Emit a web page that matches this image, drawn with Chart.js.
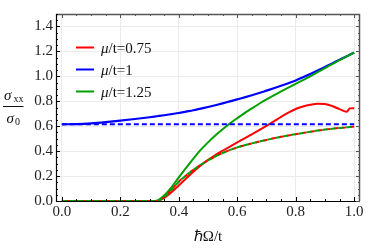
<!DOCTYPE html>
<html>
<head>
<meta charset="utf-8">
<script src="https://cdn.jsdelivr.net/npm/chart.js@4.4.0/dist/chart.umd.min.js"></script>
<style>
  html, body { margin: 0; padding: 0; background: #fff; }
  #wrap { width: 374px; height: 249px; }
</style>
</head>
<body>
<div id="wrap"><canvas id="c" width="374" height="249"></canvas></div>
<script>
// ---- data ----
const xs      = [0, 0.05, 0.1, 0.15, 0.2, 0.25, 0.3, 0.325, 0.35, 0.375, 0.4, 0.425, 0.45, 0.475, 0.5, 0.525, 0.55, 0.575, 0.6, 0.625, 0.65, 0.675, 0.7, 0.725, 0.75, 0.775, 0.8, 0.825, 0.85, 0.875, 0.9, 0.925, 0.95, 0.975, 0.985, 1.0];
const mu1     = [0.615, 0.617, 0.623, 0.633, 0.645, 0.658, 0.672, 0.68, 0.688, 0.697, 0.706, 0.717, 0.728, 0.741, 0.754, 0.768, 0.783, 0.799, 0.815, 0.831, 0.848, 0.866, 0.885, 0.904, 0.924, 0.945, 0.967, 0.992, 1.018, 1.046, 1.075, 1.104, 1.133, 1.162, 1.173, 1.19];
const mu125   = [0, 0, 0, 0, 0, 0, 0, 0.003, 0.045, 0.11, 0.19, 0.265, 0.34, 0.41, 0.47, 0.525, 0.575, 0.622, 0.664, 0.705, 0.743, 0.78, 0.815, 0.848, 0.88, 0.91, 0.94, 0.97, 1.0, 1.033, 1.066, 1.098, 1.13, 1.16, 1.172, 1.19];
const mu075   = [0, 0, 0, 0, 0, 0, 0, 0, 0.025, 0.07, 0.125, 0.18, 0.235, 0.285, 0.33, 0.368, 0.403, 0.437, 0.47, 0.502, 0.535, 0.568, 0.602, 0.638, 0.675, 0.708, 0.738, 0.758, 0.772, 0.781, 0.778, 0.762, 0.737, 0.716, 0.743, 0.744];
const dashLow = [0, 0, 0, 0, 0, 0, 0, 0, 0.03, 0.09, 0.155, 0.205, 0.25, 0.29, 0.325, 0.357, 0.385, 0.41, 0.43, 0.447, 0.462, 0.477, 0.49, 0.503, 0.515, 0.526, 0.536, 0.546, 0.555, 0.565, 0.573, 0.58, 0.586, 0.591, 0.594, 0.597];
const dashMu1 = xs.map(() => 0.615); // constant level of the blue dashed line, read as 0.615
const legendLabels = ["0.75", "1", "1.25"];
const xTicks = [0, 0.2, 0.4, 0.6, 0.8, 1.0];
const yTicks = [0, 0.2, 0.4, 0.6, 0.8, 1.0, 1.2, 1.4];

const RED = '#ff0000', BLUE = '#0000ff', GREEN = '#00a000';
const SERIF = '"Liberation Serif", "Times New Roman", serif';
const pts = arr => xs.map((x, i) => ({x: x, y: arr[i]}));

const decor = {
  id: 'decor',
  afterDraw(chart) {
    const ctx = chart.ctx, a = chart.chartArea;
    const sx = chart.scales.x, sy = chart.scales.y;
    ctx.save();
    // frame
    ctx.lineWidth = 1.5; ctx.strokeStyle = '#555';
    ctx.beginPath();
    ctx.moveTo(a.left, a.top + 0.5); ctx.lineTo(a.right - 0.5, a.top + 0.5); ctx.lineTo(a.right - 0.5, a.bottom);
    ctx.stroke();
    ctx.lineWidth = 1.2; ctx.strokeStyle = '#000';
    ctx.beginPath();
    ctx.moveTo(a.left + 0.5, a.top); ctx.lineTo(a.left + 0.5, a.bottom + 0.5); ctx.lineTo(a.right, a.bottom + 0.5);
    ctx.stroke();
    // ticks
    ctx.lineWidth = 1;
    for (let k = 0; k <= 20; k++) {
      const v = k * 0.05, px = Math.round(sx.getPixelForValue(v)) + 0.5;
      const len = (k % 4 === 0) ? 4 : 2;
      ctx.strokeStyle = '#000';
      ctx.beginPath(); ctx.moveTo(px, a.bottom); ctx.lineTo(px, a.bottom - len); ctx.stroke();
      ctx.strokeStyle = '#555';
      ctx.beginPath(); ctx.moveTo(px, a.top); ctx.lineTo(px, a.top + len); ctx.stroke();
    }
    for (let k = 0; k <= 30; k++) {
      const v = k * 0.05, py = Math.round(sy.getPixelForValue(v)) + 0.5;
      const len = (k % 4 === 0) ? 4 : 2;
      ctx.strokeStyle = '#000';
      ctx.beginPath(); ctx.moveTo(a.left, py); ctx.lineTo(a.left + len, py); ctx.stroke();
      ctx.strokeStyle = '#555';
      ctx.beginPath(); ctx.moveTo(a.right, py); ctx.lineTo(a.right - len, py); ctx.stroke();
    }
    // legend
    const cols = [RED, BLUE, GREEN];
    ctx.textBaseline = 'alphabetic';
    for (let i = 0; i < 3; i++) {
      const ly = 47.5 + 22 * i;
      ctx.strokeStyle = cols[i]; ctx.lineWidth = 2;
      ctx.beginPath(); ctx.moveTo(76, ly); ctx.lineTo(94, ly); ctx.stroke();
      ctx.fillStyle = '#111';
      ctx.font = 'italic 15px ' + SERIF;
      ctx.fillText('μ', 101, ly + 5.2);
      const w = ctx.measureText('μ').width;
      ctx.font = '15px ' + SERIF;
      ctx.fillText('/t=' + legendLabels[i], 101 + w, ly + 5.2);
    }
    // y title (fraction)
    ctx.fillStyle = '#111';
    ctx.font = 'italic 15px ' + SERIF;
    ctx.fillText('σ', 4, 100);
    ctx.font = '10px ' + SERIF;
    ctx.fillText('xx', 13.5, 101.5);
    ctx.strokeStyle = '#111'; ctx.lineWidth = 1;
    ctx.beginPath(); ctx.moveTo(3, 106.5); ctx.lineTo(23.5, 106.5); ctx.stroke();
    ctx.font = 'italic 15px ' + SERIF;
    ctx.fillText('σ', 6.5, 122.5);
    ctx.font = '10px ' + SERIF;
    ctx.fillText('0', 15, 124.5);
    // x title
    ctx.font = '15px ' + SERIF;
    ctx.textAlign = 'center';
    ctx.fillText('ℏΩ/t', (a.left + a.right) / 2, 240.5);
    ctx.restore();
  }
};

new Chart(document.getElementById('c'), {
  type: 'line',
  data: {
    datasets: [
      { label: 'μ/t=0.75', data: pts(mu075), borderColor: RED, borderWidth: 2, order: 6 },
      { label: 'μ/t=1', data: pts(mu1), borderColor: BLUE, borderWidth: 2.2, order: 5 },
      { label: 'μ/t=1.25', data: pts(mu125), borderColor: GREEN, borderWidth: 2, order: 4 },
      { label: 'μ/t=0.75 (dashed)', data: pts(dashLow), borderColor: RED, borderWidth: 2, borderDash: [4, 4], borderDashOffset: 4, order: 3 },
      { label: 'μ/t=1.25 (dashed)', data: pts(dashLow), borderColor: GREEN, borderWidth: 2, borderDash: [5, 3], order: 2 },
      { label: 'μ/t=1 (dashed)', data: pts(dashMu1), borderColor: BLUE, borderWidth: 2, borderDash: [5, 3], order: 1 }
    ]
  },
  options: {
    responsive: false,
    animation: false,
    devicePixelRatio: 1,
    layout: { padding: { left: 0, top: 14, right: 14, bottom: 0 } },
    elements: { point: { radius: 0 }, line: { cubicInterpolationMode: 'monotone', fill: false } },
    plugins: { legend: { display: false }, tooltip: { enabled: false } },
    scales: {
      x: {
        type: 'linear', min: -0.02, max: 1.02,
        afterBuildTicks: s => { s.ticks = xTicks.map(v => ({ value: v })); },
        afterFit: s => { s.height = 48; },
        grid: { color: '#ebebeb', lineWidth: 1, drawTicks: false },
        border: { display: false },
        ticks: { padding: 2, color: '#222', font: { family: SERIF, size: 15 }, callback: v => Number(v).toFixed(1), maxRotation: 0 }
      },
      y: {
        type: 'linear', min: 0, max: 1.5,
        afterBuildTicks: s => { s.ticks = yTicks.map(v => ({ value: v })); },
        afterFit: s => { s.width = 56; },
        grid: { color: '#ebebeb', lineWidth: 1, drawTicks: false },
        border: { display: false },
        ticks: { padding: 3, color: '#222', font: { family: SERIF, size: 15 }, callback: v => Number(v).toFixed(1) }
      }
    }
  },
  plugins: [decor]
});
</script>
</body>
</html>
